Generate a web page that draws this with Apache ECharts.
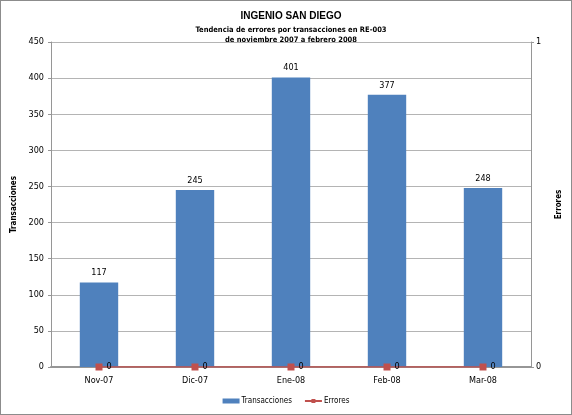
<!DOCTYPE html>
<html>
<head>
<meta charset="utf-8">
<script src="https://cdn.jsdelivr.net/npm/echarts@6/dist/echarts.min.js"></script>
<style>
    html, body { margin: 0; padding: 0; background: #fff; }
    #chart { width: 572px; height: 415px; box-sizing: border-box; border: 1px solid #8c8c8c; }
</style>
</head>
<body>
<div id="chart"></div>
<script>
// datos
const categories = ["Nov-07", "Dic-07", "Ene-08", "Feb-08", "Mar-08"];
const transacciones = [117, 245, 401, 377, 248];
const errores = [0, 0, 0, 0, 0];

const barColor = "#4F81BD";
const lineColor = "#C0504D";
const axisGray = "#969696";
const textFont = "Liberation Sans";
const narrowFont = "'DejaVu Sans Condensed', 'Liberation Sans', sans-serif";

const chart = echarts.init(document.getElementById("chart"));

chart.setOption({
    animation: false,
    title: [
        {
            text: "INGENIO SAN DIEGO",
            left: 285,
            textAlign: "center",
            top: 5,
            textStyle: { fontFamily: textFont, fontSize: 10, fontWeight: "bold", color: "#000" }
        },
        {
            text: "Tendencia de errores por transacciones en RE-003\nde noviembre 2007 a febrero 2008",
            left: 285,
            textAlign: "center",
            top: 19,
            textStyle: { fontFamily: narrowFont, fontSize: 7.5, fontWeight: "bold", color: "#000", lineHeight: 10 }
        }
    ],
    legend: {
        bottom: 4,
        left: "center",
        itemWidth: 17,
        itemHeight: 5,
        itemGap: 12,
        textStyle: { fontFamily: narrowFont, fontSize: 8, color: "#000", padding: [0, 0, 0, -3] },
        data: [
            { name: "Transacciones", icon: "rect" },
            { name: "Errores" }
        ]
    },
    grid: {
        left: 50,
        right: 40,
        top: 41,
        bottom: 47
    },
    xAxis: {
        type: "category",
        data: categories,
        axisLine: { lineStyle: { color: axisGray, width: 2 } },
        axisTick: { show: false },
        axisLabel: { fontFamily: narrowFont, fontSize: 9, color: "#000", margin: 9 }
    },
    yAxis: [
        {
            type: "value",
            min: 0,
            max: 450,
            interval: 50,
            name: "Transacciones",
            nameLocation: "middle",
            nameGap: 30,
            nameTextStyle: { fontFamily: narrowFont, fontSize: 8, fontWeight: "bold", color: "#000" },
            axisLine: { show: true, lineStyle: { color: axisGray } },
            axisTick: { show: true, length: 3, lineStyle: { color: axisGray } },
            axisLabel: { fontFamily: narrowFont, fontSize: 9, color: "#000", margin: 7 },
            splitLine: { lineStyle: { color: "#b4b4b4" } }
        },
        {
            type: "value",
            min: 0,
            max: 1,
            interval: 1,
            name: "Errores",
            nameLocation: "middle",
            nameGap: 24,
            nameRotate: 90,
            nameTextStyle: { fontFamily: narrowFont, fontSize: 8, fontWeight: "bold", color: "#000" },
            axisLine: { show: true, lineStyle: { color: axisGray } },
            axisTick: { show: true, length: 3, lineStyle: { color: axisGray } },
            axisLabel: { fontFamily: narrowFont, fontSize: 9, color: "#000", margin: 5 },
            splitLine: { show: false }
        }
    ],
    series: [
        {
            name: "Transacciones",
            type: "bar",
            barWidth: "40%",
            itemStyle: { color: barColor },
            label: {
                show: true,
                position: "top",
                distance: 5,
                fontFamily: narrowFont,
                fontSize: 9,
                color: "#000"
            },
            data: transacciones
        },
        {
            name: "Errores",
            type: "line",
            yAxisIndex: 1,
            symbol: "rect",
            symbolSize: 7,
            itemStyle: { color: lineColor },
            lineStyle: { color: lineColor, width: 1.5 },
            label: {
                show: true,
                position: "right",
                distance: 4,
                fontFamily: narrowFont,
                fontSize: 9,
                color: "#000"
            },
            data: errores
        }
    ]
});
</script>
</body>
</html>
